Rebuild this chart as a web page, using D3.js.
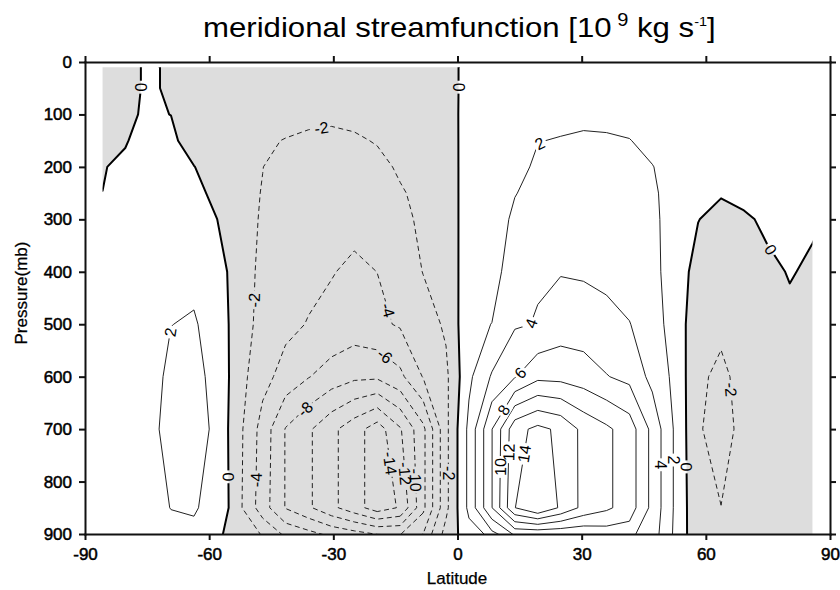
<!DOCTYPE html>
<html>
<head>
<meta charset="utf-8">
<script src="https://cdn.jsdelivr.net/npm/d3@7/dist/d3.min.js"></script>
<style>
  html, body { margin: 0; padding: 0; background: #fff; }
  svg { display: block; font-family: "Liberation Sans", Arial, Helvetica, sans-serif; }
</style>
</head>
<body>
<svg id="chart" width="840" height="590"></svg>
<script>
// Gaussian latitudes of the model grid (degrees north)
const latitudes = [-85.76, -80.27, -74.74, -69.21, -63.68, -58.14, -52.61, -47.07, -41.54, -36.00,
  -30.46, -24.93, -19.39, -13.85, -8.31, -2.77, 2.77, 8.31, 13.85, 19.39, 24.93, 30.46, 36.00,
  41.54, 47.07, 52.61, 58.14, 63.68, 69.21, 74.74, 80.27, 85.76];

// Pressure levels (mb), top to bottom
const pressureLevels = [10, 50, 100, 150, 200, 250, 300, 400, 500, 600, 700, 850, 925];

// Meridional mass streamfunction (10^9 kg/s) on each level, south to north
const psi010 = [-0.3, -0.3, 0.14, -0.13, -0.3, -0.4, -0.5, -0.55, -0.6, -0.6, -0.6, -0.55, -0.5, -0.4, -0.3, -0.06, 0.05, 0.12, 0.22, 0.32, 0.4, 0.42, 0.4, 0.35, 0.3, 0.22, 0.15, 0.1, 0.08, 0.06, 0.05, 0.04];
const psi050 = [-0.3, -0.3, 0.14, -0.13, -0.5, -0.7, -0.85, -0.95, -1.0, -1.05, -1.05, -1.0, -0.9, -0.7, -0.5, -0.12, 0.1, 0.25, 0.45, 0.65, 0.8, 0.85, 0.8, 0.7, 0.6, 0.45, 0.3, 0.2, 0.15, 0.12, 0.1, 0.08];
const psi100 = [-0.25, -0.28, 0.22, -0.02, -0.8, -1.1, -1.3, -1.45, -1.55, -1.65, -1.75, -1.6, -1.3, -1.1, -0.8, -0.23, 0.2, 0.5, 0.9, 1.3, 1.5, 1.6, 1.55, 1.45, 1.2, 0.9, 0.6, 0.4, 0.3, 0.25, 0.2, 0.15];
const psi150 = [-0.15, -0.074, 0.45, 0.4, -0.9, -1.3, -1.55, -1.83, -2.05, -2.25, -2.3, -2.2, -1.9, -1.5, -1.1, -0.35, 0.3, 0.8, 1.4, 1.95, 2.1, 2.25, 2.2, 2.05, 1.55, 1.2, 0.8, 0.5, 0.45, 0.4, 0.3, 0.25];
const psi200 = [-0.05, 0.19, 0.6, 0.7, 0.05, -1.0, -1.6, -1.98, -2.6, -2.8, -2.9, -2.8, -2.4, -1.8, -1.3, -0.47, 0.4, 0.8, 1.44, 2.3, 2.8, 3.0, 2.9, 2.5, 2.05, 1.34, 0.9, 0.45, 0.6, 0.55, 0.4, 0.3];
const psi250 = [0.005, 0.35, 0.8, 1.0, 0.6, -0.53, -1.5, -2.06, -2.9, -3.1, -3.2, -3.2, -2.9, -2.14, -1.62, -0.53, 0.45, 0.7, 1.9, 2.8, 3.2, 3.3, 3.2, 2.9, 2.4, 0.92, 0.4, 0.1, 0.58, 0.6, 0.45, 0.35];
const psi300 = [0.3, 0.5, 1.0, 1.2, 0.9, 0.02, -1.2, -2.2, -3.2, -3.4, -3.5, -3.5, -3.3, -2.5, -1.64, -0.59, 0.5, 0.6, 2.5, 3.2, 3.4, 3.4, 3.3, 3.0, 2.5, 0.98, 0.03, -0.4, -0.3, 0.34, 0.3, 0.2];
const psi400 = [0.3, 0.6, 1.0, 1.5, 1.6, 0.9, -1.1, -2.44, -3.3, -3.5, -3.91, -4.33, -3.99, -3.2, -1.95, -1.0, 0.85, 1.13, 3.2, 3.85, 3.9, 3.8, 3.6, 3.3, 2.8, 0.64, -0.44, -1.0, -0.8, -0.4, 0.1, -0.235];
const psi500 = [0.4, 0.8, 1.1, 1.98, 2.15, 1.3, -1.22, -2.54, -3.5, -4.1, -4.5, -4.93, -4.4, -3.79, -2.9, -1.72, 1.47, 2.03, 3.8, 4.09, 5.0, 4.9, 4.5, 4.05, 3.2, 0.8, -0.94, -1.71, -1.2, -0.9, -0.35, -0.4];
const psi600 = [0.5, 0.95, 1.26, 2.4, 2.48, 1.5, -1.33, -3.32, -4.77, -5.91, -6.9, -7.6, -7.67, -6.46, -3.9, -2.4, 1.6, 4.2, 5.87, 7.5, 7.4, 7.0, 6.09, 5.45, 3.41, 1.5, -1.75, -2.3, -1.53, -1.1, -0.7, -0.6];
const psi700 = [0.55, 1.0, 1.45, 2.6, 3.0, 1.5, -1.56, -4.8, -8.1, -9.7, -11.5, -13.17, -15, -12.2, -8.5, -2.5, 2.5, 7.95, 13.3, 14.5, 13.6, 11.44, 10.36, 9.04, 5.42, 1.68, -1.85, -2.6, -1.54, -1.1, -0.8, -0.6];
const psi850 = [0.45, 0.85, 1.2, 2.05, 2.06, 1.76, -1.66, -5.06, -8.1, -9.7, -11.5, -13.17, -15, -13.8, -8.5, -2.5, 2.5, 7.95, 13.95, 16, 13.7, 11.44, 10.36, 9.04, 5.42, 1.68, -1.6, -1.98, -1.3, -1.0, -0.7, -0.5];
const psi925 = [0.2, 0.4, 0.8, 1.0, 1.78, 0.17, -1.03, -1.03, -2.69, -3.25, -4.08, -4.37, -4.65, -5.4, -4.75, -0.7, 0.6, 1.2, 2.8, 1.75, 2.9, 4.0, 5.3, 6.0, 4.8, 1.56, -1.45, -1.56, -1.15, -0.85, -0.55, -0.43];
const psiRows = [psi010, psi050, psi100, psi150, psi200, psi250, psi300, psi400, psi500, psi600, psi700, psi850, psi925];

// Contour interval 2 x 10^9 kg/s
const contourLevels = [-14, -12, -10, -8, -6, -4, -2, 0, 2, 4, 6, 8, 10, 12, 14];

// Axis ticks
const latTicks = [-90, -60, -30, 0, 30, 60, 90];
const pressureTicks = [0, 100, 200, 300, 400, 500, 600, 700, 800, 900];

// Contour label placement: [level, latitude, pressure]; each label snaps to its contour
const labelSpots = [
  [0, -76.7, 48], [0, 0.2, 48], [-2, -33.1, 114], [2, 20.3, 162], [0, 76.2, 355],
  [-2, -49.4, 454], [-4, -16.7, 473], [2, -69.4, 515], [4, 17.7, 498], [-6, -17.4, 559],
  [6, 15.2, 593], [-8, -37.3, 658], [8, 10.4, 660], [-2, 65.8, 625], [-14, -14.3, 763],
  [-12, -11.4, 784], [-10, -9.0, 797], [-2, -2.4, 784], [10, 9.2, 772], [12, 11.6, 744],
  [14, 15.2, 746], [4, 47.9, 768], [2, 52.7, 759], [0, 55.7, 772], [0, -56.9, 791],
  [-4, -48.1, 797]
];

// ---------------------------------------------------------------------------
const svg = d3.select('#chart');
const defs = svg.append('defs');

const x = d3.scaleLinear().domain([-90, 90]).range([85, 830]);
const y = d3.scaleLinear().domain([0, 900]).range([62, 534]);

const nx = latitudes.length, ny = pressureLevels.length;
const grid = psiRows.flat();

// d3.contours puts grid value i at coordinate i + 0.5
const latOf = d3.scaleLinear().domain(d3.range(nx)).range(latitudes);
const presOf = d3.scaleLinear().domain(d3.range(ny)).range(pressureLevels);
const gx = c => x(latOf(c - 0.5));
const gy = r => y(presOf(r - 0.5));

// Data area (grid extent, cut at the 900 mb axis)
const clipX0 = x(latitudes[0]), clipX1 = x(latitudes[nx - 1]);
const clipY0 = y(pressureLevels[0]), clipY1 = y(900);
defs.append('clipPath').attr('id', 'dataArea')
  .append('rect')
  .attr('x', clipX0).attr('y', clipY0)
  .attr('width', clipX1 - clipX0).attr('height', clipY1 - clipY0);

// Grey shading where the streamfunction is negative
const projection = d3.geoTransform({
  point(a, b) { this.stream.point(gx(a), gy(b)); }
});
const geoPath = d3.geoPath(projection);
const negative = d3.contours().size([nx, ny]).thresholds([1e-9])(grid.map(v => -v))[0];
svg.append('g').attr('clip-path', 'url(#dataArea)')
  .append('path')
  .attr('d', geoPath(negative))
  .attr('fill', '#dddddd')
  .attr('fill-rule', 'evenodd');

// Contour lines: drop the pieces that run along the grid border
const onEdge = p => p[0] <= 0 || p[0] >= nx || p[1] <= 0 || p[1] >= ny;
function splitRing(ring) {
  const m = ring.length - 1;
  const drop = [];
  for (let i = 0; i < m; i++) drop.push(onEdge(ring[i]) && onEdge(ring[i + 1]));
  if (!drop.some(Boolean)) return [{ pts: ring.slice(0, m), closed: true }];
  const start = drop.indexOf(true);
  const out = [];
  let cur = null;
  for (let k = 1; k <= m; k++) {
    const i = (start + k) % m;
    if (drop[i]) { if (cur) { out.push(cur); cur = null; } }
    else { if (!cur) cur = [ring[i]]; cur.push(ring[i + 1]); }
  }
  if (cur) out.push(cur);
  return out.map(pts => ({ pts, closed: false }));
}

const levelLines = contourLevels.map(level => {
  const mp = d3.contours().size([nx, ny]).thresholds([level])(grid)[0];
  const lines = [];
  mp.coordinates.forEach(poly => poly.forEach(ring => lines.push(...splitRing(ring))));
  lines.forEach(l => { l.px = l.pts.map(q => [gx(q[0]), gy(q[1])]); });
  return { level, lines };
});

const mask = defs.append('mask').attr('id', 'labelGaps')
  .attr('maskUnits', 'userSpaceOnUse')
  .attr('x', 0).attr('y', 0).attr('width', 840).attr('height', 590);
mask.append('rect').attr('width', 840).attr('height', 590).attr('fill', 'white');

const lineGen = d3.line();
const linesG = svg.append('g').attr('mask', 'url(#labelGaps)')
  .append('g').attr('clip-path', 'url(#dataArea)');
levelLines.forEach(({ level, lines }) => {
  lines.forEach(l => {
    linesG.append('path')
      .attr('d', lineGen(l.px) + (l.closed ? 'Z' : ''))
      .attr('fill', 'none')
      .attr('stroke', level === 0 ? '#000' : '#222')
      .attr('stroke-width', level === 0 ? 2 : 1)
      .attr('stroke-linejoin', 'round')
      .attr('stroke-dasharray', level < 0 ? '5,3.5' : null);
  });
});

// Contour labels, rotated along the line, with a gap cut in the line
function nearestOnLines(lines, ax, ay) {
  let best = { d: Infinity };
  lines.forEach(l => {
    const pts = l.closed ? l.px.concat([l.px[0]]) : l.px;
    for (let i = 0; i < pts.length - 1; i++) {
      const [x1, y1] = pts[i], [x2, y2] = pts[i + 1];
      const dx = x2 - x1, dy = y2 - y1;
      const len2 = dx * dx + dy * dy;
      if (len2 === 0) continue;
      let t = ((ax - x1) * dx + (ay - y1) * dy) / len2;
      t = Math.max(0, Math.min(1, t));
      const qx = x1 + t * dx, qy = y1 + t * dy;
      if (qx < clipX0 || qx > clipX1 || qy < clipY0 || qy > clipY1) continue;
      const d = (qx - ax) ** 2 + (qy - ay) ** 2;
      if (d < best.d) best = { d, x: qx, y: qy, dx, dy };
    }
  });
  return best;
}

const labelG = svg.append('g')
  .attr('font-size', 16)
  .attr('fill', '#000')
  .attr('text-anchor', 'middle');
labelSpots.forEach(([level, lat, p]) => {
  const entry = levelLines.find(d => d.level === level);
  const hit = nearestOnLines(entry.lines, x(lat), y(p));
  if (!isFinite(hit.d)) return;
  let ang = Math.atan2(hit.dy, hit.dx) * 180 / Math.PI;
  if (ang > 90) ang -= 180;
  if (ang <= -90) ang += 180;
  const tf = `translate(${hit.x},${hit.y}) rotate(${ang})`;
  const t = labelG.append('text')
    .attr('transform', tf)
    .attr('dy', '0.36em')
    .text(String(level));
  const w = t.node().getComputedTextLength();
  mask.append('rect')
    .attr('transform', tf)
    .attr('x', -w / 2 - 2).attr('y', -7)
    .attr('width', w + 4).attr('height', 14)
    .attr('fill', 'black');
});

// Axes and frame
const fontFamily = '"Liberation Sans", Arial, Helvetica, sans-serif';
function styleAxis(g) {
  g.attr('font-size', 17).attr('font-family', fontFamily);
  g.select('.domain').attr('stroke', '#111').attr('stroke-width', 2).attr('stroke-linecap', 'square');
  g.selectAll('.tick line').attr('stroke', '#111').attr('stroke-width', 2);
  g.selectAll('.tick text').attr('fill', '#000')
    .attr('stroke', '#000').attr('stroke-width', 0.5);
}
svg.append('g').attr('transform', 'translate(85,0)')
  .call(d3.axisLeft(y).tickValues(pressureTicks).tickFormat(d => String(d))
    .tickSize(6).tickSizeOuter(0).tickPadding(7))
  .call(styleAxis);
svg.append('g').attr('transform', 'translate(0,534)')
  .call(d3.axisBottom(x).tickValues(latTicks).tickFormat(d => String(d))
    .tickSize(6).tickSizeOuter(0).tickPadding(8))
  .call(styleAxis);
svg.append('g').attr('transform', 'translate(0,62)')
  .call(d3.axisTop(x).tickValues(latTicks).tickFormat('').tickSize(6).tickSizeOuter(0))
  .call(styleAxis);
svg.append('g').attr('transform', 'translate(830,0)')
  .call(d3.axisRight(y).tickValues(pressureTicks).tickFormat('').tickSize(6).tickSizeOuter(0))
  .call(styleAxis);

// Axis titles
svg.append('text')
  .attr('x', 457).attr('y', 584)
  .attr('text-anchor', 'middle').attr('font-size', 17)
  .attr('stroke', '#000').attr('stroke-width', 0.25)
  .text('Latitude');
svg.append('text')
  .attr('transform', 'translate(27,293) rotate(-90)')
  .attr('text-anchor', 'middle').attr('font-size', 17)
  .attr('stroke', '#000').attr('stroke-width', 0.25)
  .text('Pressure(mb)');

// Title with superscripts
const title = svg.append('text')
  .attr('x', 0).attr('y', 0)
  .attr('font-size', 28);
title.append('tspan').text('meridional streamfunction [10');
title.append('tspan').attr('dx', 5).attr('dy', -11).attr('font-size', 18).text('9');
title.append('tspan').attr('dy', 11).text(' kg s');
title.append('tspan').attr('dy', -11).attr('font-size', 13).text('-1');
title.append('tspan').attr('dy', 11).text(']');
const tb = title.node().getBBox();
const sx = 513 / tb.width;
title.attr('transform', `translate(203,37) scale(${sx},1)`);
</script>
</body>
</html>
